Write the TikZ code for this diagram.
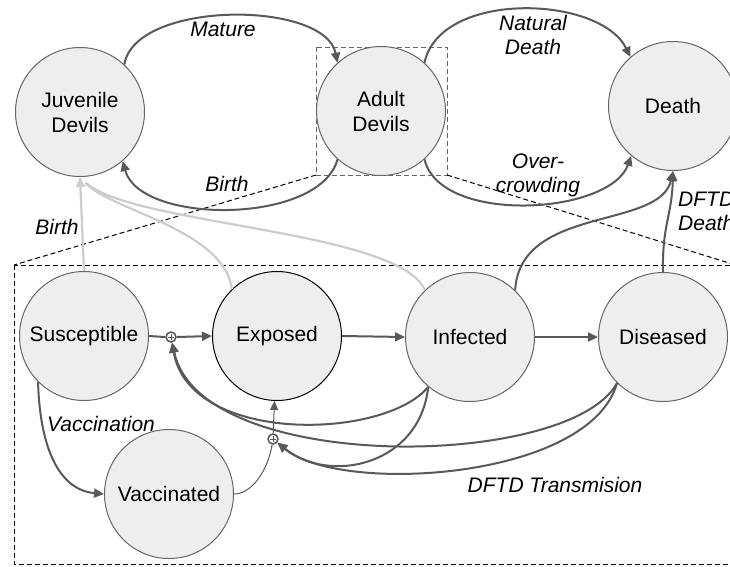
\documentclass[tikz,border=0pt]{standalone}
\usepackage{fontspec}
\setmainfont{Liberation Sans}
\usetikzlibrary{arrows.meta}
\definecolor{lnk}{HTML}{595959}
\definecolor{bord}{HTML}{666666}
\definecolor{lgry}{HTML}{CCCCCC}
\definecolor{nfill}{HTML}{EEEEEE}
\begin{document}
\begin{tikzpicture}[x=1pt,y=-1pt,
  state/.style={circle,draw=bord,line width=1pt,fill=nfill,minimum size=129pt,inner sep=0pt,align=center,font=\fontsize{21}{25}\selectfont},
  lbl/.style={font=\fontsize{21}{24}\selectfont\itshape,align=center,inner sep=0pt},
  flow/.style={draw=lnk,line width=2pt,-{Triangle[length=10pt,width=9pt]}},
  plainflow/.style={draw=lnk,line width=2pt},
  thinflow/.style={draw=lnk,line width=1pt,-{Triangle[length=9pt,width=8pt]}},
  thinline/.style={draw=lnk,line width=1pt},
  birthflow/.style={draw=lgry,line width=2.2pt},
  junc/.style={circle,draw=lnk,line width=1.5pt,fill=white,minimum size=10pt,inner sep=0pt},
  dashbox/.style={line width=1pt,dash pattern=on 5pt off 3pt},
]
\useasboundingbox (0,0) rectangle (730,566);
\clip (0,0) rectangle (730,566);

% dashed zoom frame
\coordinate (sa) at (316,47);
\coordinate (sb) at (447,175);
\coordinate (sbl) at (316,175);
\coordinate (ba) at (14,265);
\coordinate (bb) at (745,564);
\coordinate (btr) at (745,268);
\draw[dashbox,draw=bord] (sa) rectangle (sb);
\draw[dashbox] (ba) rectangle (bb);
\draw[dashbox] (sbl) -- (ba);
\draw[dashbox] (sb) -- (btr);

% states
\node[state] (juv) at (80,112) {Juvenile\\Devils};
\node[state] (adl) at (381,111) {Adult\\Devils};
\node[state] (dth) at (673,106) {Death};
\node[state] (sus) at (84,336) {Susceptible};
\node[state,draw=black] (exp) at (277,336) {Exposed};
\node[state] (inf) at (470,337) {Infected};
\node[state] (dis) at (663,337) {Diseased};
\node[state] (vac) at (169,494) {Vaccinated};

% junctions
\node[junc] (j1) at (171,337) {};
\node[junc] (j2) at (273,439) {};
\draw[lnk,line width=1pt] ([xshift=-3pt]j1.center) -- ([xshift=3pt]j1.center)
  ([yshift=-3pt]j1.center) -- ([yshift=3pt]j1.center);
\draw[lnk,line width=1pt] ([xshift=-3pt]j2.center) -- ([xshift=3pt]j2.center)
  ([yshift=-3pt]j2.center) -- ([yshift=3pt]j2.center);

% upper population model
\draw[flow] (juv.47) .. controls (135,0) and (325,0) .. (adl.132);
\draw[flow] (adl.228) .. controls (320,225) and (140,225) .. (juv.-49);
\draw[flow] (adl.48) .. controls (440,-10) and (600,-5) .. (dth.131);
\draw[flow] (adl.-48) .. controls (440,225) and (610,215) .. (dth.230);

% births from lower model
\draw[birthflow,-{Triangle[length=10pt,width=9pt]}] (sus.north) -- (juv.south);
\draw[birthflow,shorten >=8pt] (exp.134) .. controls (225,230) and (110,210) .. (juv.south);
\draw[birthflow,shorten >=8pt] (inf.134) .. controls (400,230) and (130,225) .. (juv.south);

% disease progression
\draw[plainflow] (sus.east) -- (j1.west);
\draw[flow] (j1.east) -- (exp.west);
\draw[flow] (exp.east) -- (inf.west);
\draw[flow] (inf.east) -- (dis.west);
\draw[flow] (sus.225) .. controls (40,450) and (60,490) .. (vac.west);
\draw[thinline] (vac.east) .. controls (252,494) and (268,470) .. (j2);
\draw[thinflow] (j2) -- (exp);

% transmission
\draw[flow] (inf.230) .. controls (385,440) and (190,445) .. (j1);
\draw[flow] (dis.225) .. controls (570,470) and (200,475) .. (j1);
\draw[flow] (inf.230) .. controls (420,465) and (330,485) .. (j2);
\draw[flow] (dis.225) .. controls (590,480) and (340,495) .. (j2);

% DFTD deaths
\draw[flow] (inf.46) .. controls (520,205) and (660,230) .. (dth.south);
\draw[flow] (dis.north) .. controls (662,225) and (672,215) .. (dth.south);

% labels
\node[lbl] (lmat) at (223,29) {Mature};
\node[lbl] (lbir1) at (227,184) {Birth};
\node[lbl] (lnat) at (533,35) {Natural\\Death};
\node[lbl] (lover) at (538,175) {Over-\\crowding};
\node[lbl] (lbir2) at (57,227) {Birth};
\node[lbl] (lvac) at (101,424) {Vaccination};
\node[lbl] (ltr) at (555,485) {DFTD Transmision};
\node[lbl,anchor=west,align=left] (ldd) at (678,211) {DFTD\\Death};
\end{tikzpicture}
\end{document}
